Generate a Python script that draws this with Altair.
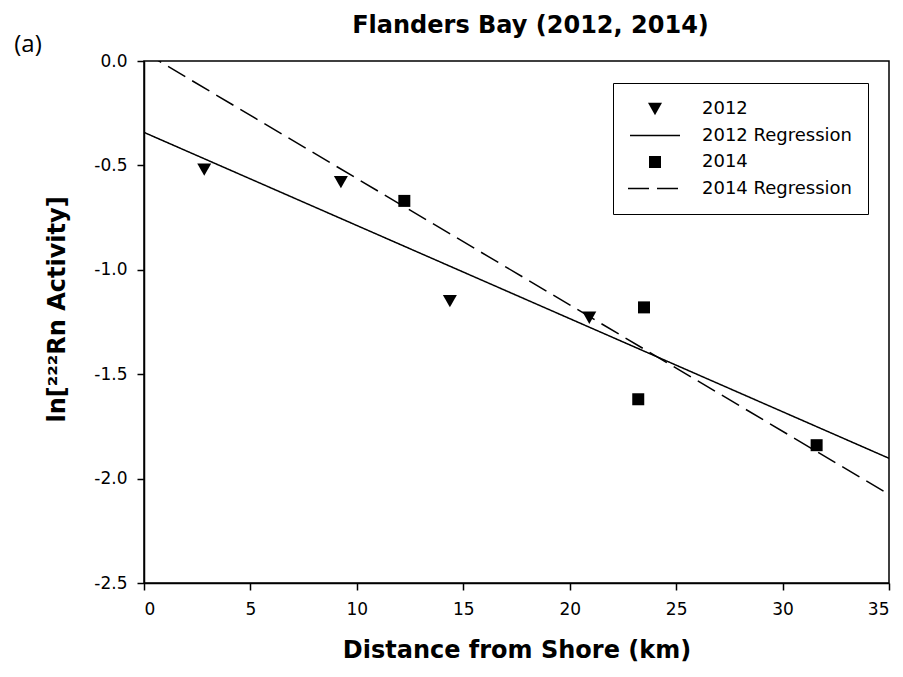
import altair as alt
import pandas as pd

# ---- data ----
x2012 = [2.83, 9.25, 14.37, 20.92]
y2012 = [-0.52, -0.58, -1.15, -1.23]
x2014 = [12.23, 23.49, 23.22, 31.60]
y2014 = [-0.67, -1.18, -1.62, -1.84]

legend_labels = ["2012", "2012 Regression", "2014", "2014 Regression"]
x_ticks = [0, 5, 10, 15, 20, 25, 30, 35]
y_ticks = [-2.5, -2.0, -1.5, -1.0, -0.5, 0.0]

df = pd.DataFrame({
    "series": ["2012"] * len(x2012) + ["2014"] * len(x2014),
    "x": x2012 + x2014,
    "y": y2012 + y2014,
})

FONT = "DejaVu Sans"

# custom symbol paths (unit square scaled by sqrt(size)/2); line symbols are thin filled bars
tri_path = "M-0.7,-0.62L0.7,-0.62L0,0.62Z"
line_path = "M-2.5,-0.075L2.5,-0.075L2.5,0.075L-2.5,0.075Z"
sq_path = "M-0.6,-0.6L0.6,-0.6L0.6,0.6L-0.6,0.6Z"
dash_path = ("M-2.7,-0.075L-0.6,-0.075L-0.6,0.075L-2.7,0.075Z"
             "M0.2,-0.075L2.3,-0.075L2.3,0.075L0.2,0.075Z")

x_enc = alt.X(
    "x:Q",
    scale=alt.Scale(domain=[0, 35], nice=False, zero=False),
    axis=alt.Axis(
        values=x_ticks, title="Distance from Shore (km)", grid=False,
        labelPadding=11, titleFontSize=24, titleFontWeight="bold",
        titleY=67, titleBaseline="middle",
    ),
)
y_enc = alt.Y(
    "y:Q",
    scale=alt.Scale(domain=[-2.5, 0], nice=False, zero=False),
    axis=alt.Axis(
        values=y_ticks, title="ln[²²²Rn Activity]", grid=False,
        labelPadding=10,
        labelExpr="replace(format(datum.value, '.1f'), '\u2212', '-')",
        titleFontSize=24, titleFontWeight="bold",
        titleAngle=-90, titleX=-87, titleY=248, titleBaseline="middle",
        titleAlign="center",
    ),
)

base = alt.Chart(df)

points = base.mark_point(
    filled=True, color="black", size=400, opacity=1,
).encode(
    x=x_enc,
    y=y_enc,
    shape=alt.Shape(
        "series:N",
        scale=alt.Scale(domain=legend_labels,
                        range=[tri_path, line_path, sq_path, dash_path]),
        legend=alt.Legend(
            title=None, orient="none", legendX=469, legendY=22,
            direction="vertical",
            strokeColor="black", fillColor="white", padding=16,
            cornerRadius=0, labelFont=FONT, labelFontSize=18,
            labelColor="black", symbolSize=400,
            symbolFillColor="black", symbolStrokeWidth=0,
            symbolOffset=16, labelOffset=37, rowPadding=7.5,
        ),
    ),
)

reg = base.transform_regression(
    "x", "y", groupby=["series"], extent=[0, 35]
).mark_line(color="black", strokeWidth=1.5, clip=True).encode(
    x="x:Q",
    y="y:Q",
    strokeDash=alt.StrokeDash(
        "series:N",
        scale=alt.Scale(domain=["2012", "2014"], range=[[1, 0], [20, 8]]),
        legend=None,
    ),
)

panel_label = alt.Chart(pd.DataFrame({"lab": ["(a)"]})).mark_text(
    font="Open Sans", fontSize=24, color="black", align="center", baseline="middle"
).encode(text="lab:N", x=alt.value(-116), y=alt.value(-16))

chart = alt.layer(reg, points, panel_label).properties(
    width=745,
    height=522,
    background="white",
    title=alt.TitleParams(
        "Flanders Bay (2012, 2014)", font=FONT, fontSize=24, fontWeight="bold",
        color="black", anchor="middle", frame="group", dx=14, dy=29, offset=24,
    ),
    autosize=alt.AutoSizeParams(type="none"),
    padding={"left": 144, "top": 61, "right": 14, "bottom": 94},
).configure_view(
    stroke="black", strokeWidth=1.5
).configure_axis(
    labelFont=FONT, labelFontSize=17, labelColor="black",
    titleFont=FONT, titleColor="black",
    domainColor="black", domainWidth=1.5,
    tickColor="black", tickWidth=1.5, tickSize=7,
)

chart.save("out.html", embed_options={"renderer": "svg", "actions": False})
